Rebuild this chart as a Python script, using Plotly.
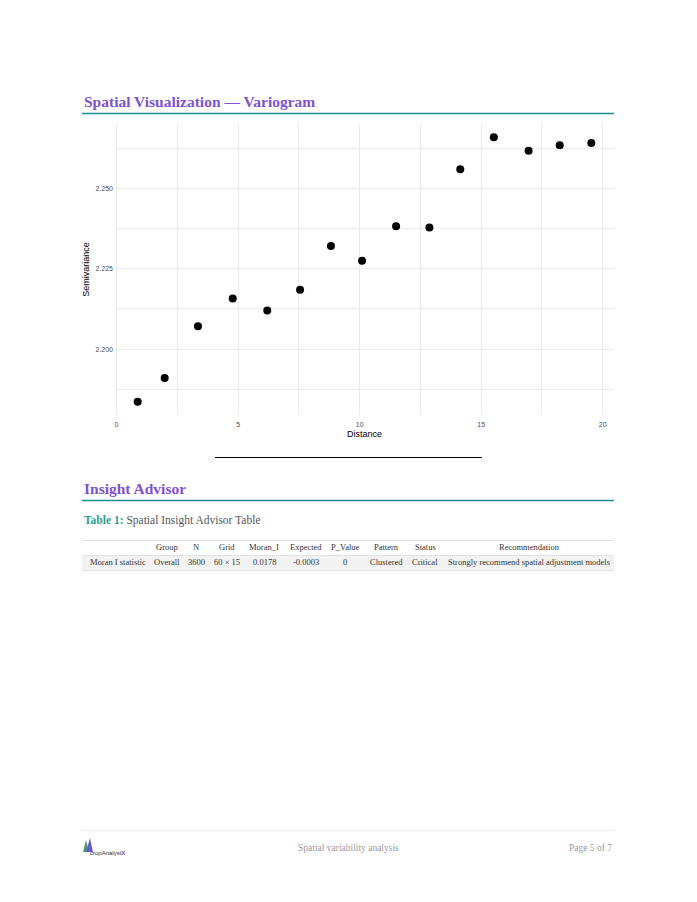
import plotly.graph_objects as go

# ---- data ----
distance = [0.87, 1.98, 3.35, 4.78, 6.20, 7.55, 8.82, 10.10, 11.50, 12.87, 14.14, 15.52, 16.95, 18.23, 19.53]
semivariance = [2.1836, 2.1910, 2.2071, 2.2158, 2.2120, 2.2185, 2.2321, 2.2275, 2.2383, 2.2379,
                2.2560, 2.2660, 2.2618, 2.2635, 2.2642]
x_ticks = [0, 5, 10, 15, 20]
y_ticks = [2.200, 2.225, 2.250]
y_tick_labels = ["2.200", "2.225", "2.250"]

table_header = ["", "Group", "N", "Grid", "Moran_I", "Expected", "P_Value", "Pattern", "Status", "Recommendation"]
table_row = ["Moran I statistic", "Overall", "3600", "60 × 15", "0.0178", "-0.0003", "0", "Clustered", "Critical",
             "Strongly recommend spatial adjustment models"]

W, H = 697, 902
OFF = 8  # default page body margin
PURPLE = "#7f52cf"
TEAL = "#1d8c8c"
SERIF = "Liberation Serif, DejaVu Serif, serif"
SANS = "Liberation Sans, Arial, sans-serif"


def px(x):
    return (x - OFF) / W


def py(y):
    return 1 - (y - OFF) / H


fig = go.Figure()
fig.add_trace(go.Scatter(x=distance, y=semivariance, mode="markers",
                         marker=dict(color="black", size=8), showlegend=False,
                         hoverinfo="x+y"))

pl, pr, pt, pb = 115, 614, 124, 415
ymin = min(semivariance); ymax = max(semivariance)
xmin = min(distance); xmax = max(distance)
xr = [xmin - 0.05 * (xmax - xmin), xmax + 0.05 * (xmax - xmin)]
yr = [ymin - 0.05 * (ymax - ymin), ymax + 0.05 * (ymax - ymin)]

grid = "#ebebeb"
fig.update_layout(
    width=W, height=H, margin=dict(l=0, r=0, t=0, b=0),
    paper_bgcolor="white", plot_bgcolor="white",
    xaxis=dict(domain=[px(pl), px(pr)], range=xr, tickvals=x_ticks, showgrid=True, gridcolor=grid, gridwidth=1,
               zeroline=False, showline=False, ticks="", ticklabelstandoff=4,
               tickfont=dict(family=SANS, size=7, color="#4d4d4d"),
               minor=dict(dtick=2.5, tick0=0, showgrid=True, gridcolor=grid, gridwidth=0.6),
               title=dict(text="Distance", font=dict(family=SANS, size=9, color="black"), standoff=3)),
    yaxis=dict(domain=[py(pb), py(pt)], range=yr, tickvals=y_ticks, ticktext=y_tick_labels, showgrid=True,
               gridcolor=grid, gridwidth=1, zeroline=False, showline=False, ticks="", ticklabelstandoff=1,
               tickfont=dict(family=SANS, size=7, color="#4d4d4d"),
               minor=dict(dtick=0.0125, tick0=2.2, showgrid=True, gridcolor=grid, gridwidth=0.6),
               title=dict(text="Semivariance", font=dict(family=SANS, size=9, color="black"), standoff=4)),
)

shapes = []
ann = []


def text(x, y, s, size, color, anchor="left", family=SERIF):
    ann.append(dict(x=px(x), y=py(y), xref="paper", yref="paper", xanchor=anchor, yanchor="middle",
                    text=s, showarrow=False, font=dict(family=family, size=size, color=color)))


def hline(x0, x1, y, color, width):
    shapes.append(dict(type="line", xref="paper", yref="paper", x0=px(x0), x1=px(x1), y0=py(y), y1=py(y),
                       line=dict(color=color, width=width)))


# Headings
text(82, 101, "<b>Spatial Visualization — Variogram</b>", 15.5, PURPLE)
hline(82, 614, 113.5, TEAL, 1.3)
hline(215, 482, 457.5, "black", 1)
text(82, 489, "<b>Insight Advisor</b>", 15.5, PURPLE)
hline(82, 614, 500.5, TEAL, 1.3)
text(82, 520, "<b><span style='color:#2a9d8f'>Table 1:</span></b> Spatial Insight Advisor Table", 11.5, "#555555")

# Table
shapes.append(dict(type="rect", xref="paper", yref="paper", x0=px(82), x1=px(614), y0=py(570), y1=py(555),
                   fillcolor="#f2f2f2", line=dict(width=0)))
for yy in (540.5, 555.5, 570.5):
    hline(82, 614, yy, "#dddddd", 0.8)
col_x = [118, 167, 196, 227, 264, 306, 345, 387, 425, 529]
for i, (h, v) in enumerate(zip(table_header, table_row)):
    if h:
        text(col_x[i], 547, h, 8.5, "#333333", anchor="center")
    text(col_x[i], 562, v, 8.5, "#333333", anchor="center")

# Footer
hline(82, 614, 830.5, "#e6e6e6", 0.8)
text(348, 848, "Spatial variability analysis", 9.5, "#999999", anchor="center")
text(614, 848, "Page 5 of 7", 9.5, "#999999", anchor="right")
# logo approximation
shapes.append(dict(type="path", xref="paper", yref="paper",
                   path="M %f %f L %f %f L %f %f Z" % (px(83), py(852), px(86), py(840), px(89), py(852)),
                   fillcolor="#4a9a6a", line=dict(width=0)))
shapes.append(dict(type="path", xref="paper", yref="paper",
                   path="M %f %f L %f %f L %f %f Z" % (px(86), py(852), px(90), py(838), px(93), py(852)),
                   fillcolor="#6a5acd", line=dict(width=0)))
text(88, 853, "cropAnalyst<span style='color:#7b3fd0'><b>X</b></span>", 6, "#333333", family=SANS)

fig.update_layout(shapes=shapes, annotations=ann)
fig.write_html("out.html")
